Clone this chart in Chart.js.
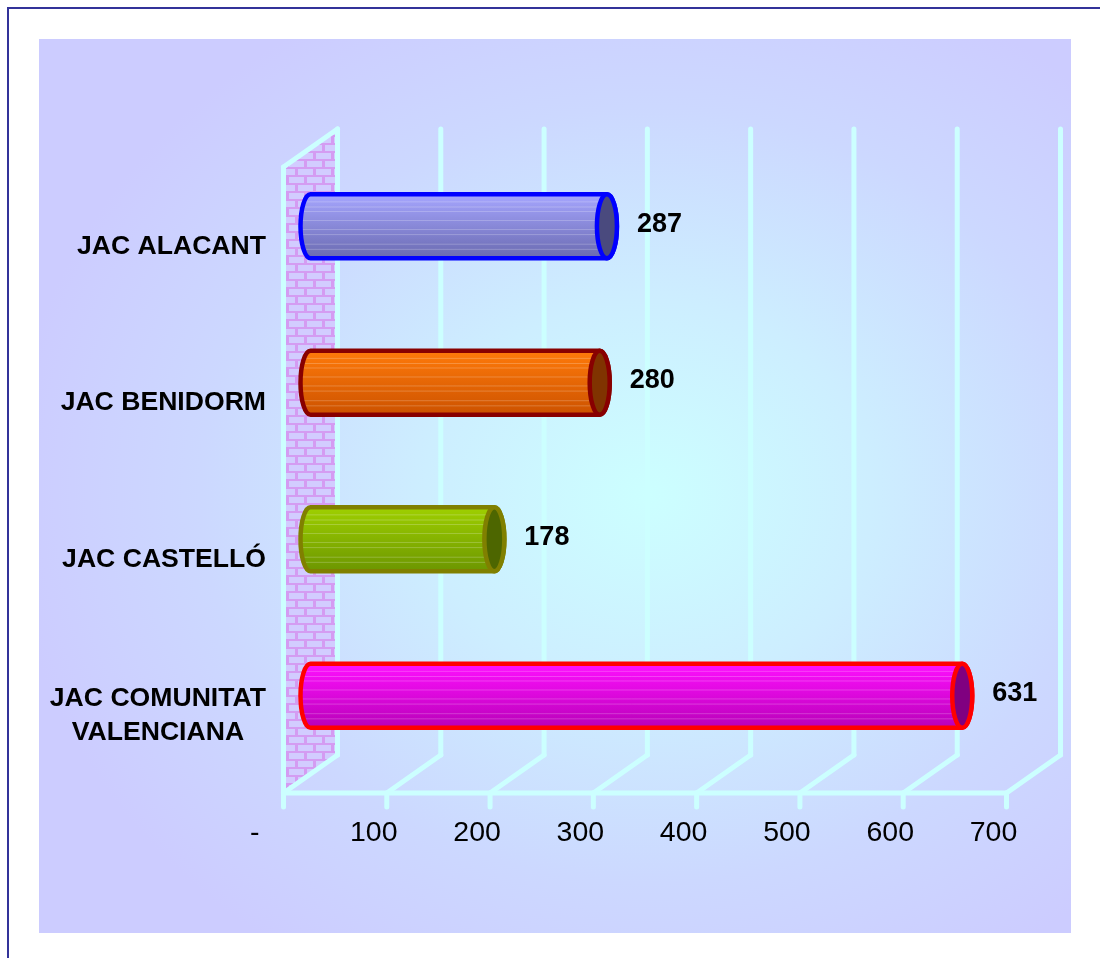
<!DOCTYPE html>
<html>
<head>
<meta charset="utf-8">
<script src="https://cdn.jsdelivr.net/npm/chart.js@4.4.0/dist/chart.umd.min.js"></script>
<style>
body { margin: 0; background: #fff; }
#frame { position: absolute; left: 7px; top: 7px; width: 1200px; height: 1100px;
  border-left: 2px solid #333399; border-top: 2px solid #333399; }
#panel { position: absolute; left: 39px; top: 39px; width: 1032px; height: 894px;
  background: radial-gradient(ellipse 62% 62% at 59% 51%, #ccffff 0%, #cdeeff 35%, #ccd8ff 70%, #ccccff 100%); }
#wrap { position: absolute; left: 0; top: 0; width: 1100px; height: 958px; }
</style>
</head>
<body>
<div id="frame"></div>
<div id="panel"></div>
<div id="wrap"><canvas id="myChart" width="1100" height="958"></canvas></div>
<script>
const categories = [["JAC ALACANT"], ["JAC BENIDORM"], ["JAC CASTELLÓ"], ["JAC COMUNITAT", "VALENCIANA"]];
const values = [287, 280, 178, 631];
const tickLabels = ["-    ", "100", "200", "300", "400", "500", "600", "700"];

const topColors = ["#a6a6ff", "#ff7a0a", "#9fd000", "#ff10ff"];
const bottomColors = ["#6a6ab0", "#cc5200", "#6c9600", "#b800b8"];
const borderColors = ["#0000ff", "#880000", "#808000", "#ff0000"];
const endColors = ["#4a4a7e", "#803300", "#4d6600", "#800080"];

const FONT = "'Liberation Sans', Arial, sans-serif";
const DX = 27, DY = 19;   // offset from the middle plane to the front/back plane
const GRID = "#ccffff";

function brickPattern(ctx) {
    const c = document.createElement("canvas");
    c.width = 18; c.height = 16;
    const g = c.getContext("2d");
    g.fillStyle = "#d49cf2";
    g.fillRect(0, 0, 18, 16);
    g.fillStyle = "#d2ccff";
    g.fillRect(1, 1, 15, 6);
    g.fillRect(10, 9, 15, 6);
    g.fillRect(-8, 9, 15, 6);
    return ctx.createPattern(c, "repeat");
}

function line(ctx, x1, y1, x2, y2) {
    ctx.beginPath();
    ctx.moveTo(x1, y1);
    ctx.lineTo(x2, y2);
    ctx.stroke();
}

const wallPlugin = {
    id: "wall",
    beforeDatasetsDraw(chart) {
        const ctx = chart.ctx, xs = chart.scales.x, a = chart.chartArea;
        const backTop = a.top - DY, backFloor = a.bottom - DY;
        const frontTop = backTop + 2 * DY, frontFloor = a.bottom + DY;
        const m0 = xs.getPixelForValue(xs.min), mEnd = xs.getPixelForValue(xs.max);
        ctx.save();
        ctx.fillStyle = brickPattern(ctx);
        ctx.beginPath();
        ctx.moveTo(m0 - DX, frontTop);
        ctx.lineTo(m0 + DX, backTop);
        ctx.lineTo(m0 + DX, backFloor);
        ctx.lineTo(m0 - DX, frontFloor);
        ctx.closePath();
        ctx.fill();

        ctx.strokeStyle = GRID;
        ctx.lineWidth = 5;
        ctx.lineCap = "round";
        ctx.lineJoin = "round";
        xs.ticks.forEach(t => {
            const m = xs.getPixelForValue(t.value);
            line(ctx, m + DX, backTop, m + DX, backFloor);
            line(ctx, m - DX, frontFloor, m + DX, backFloor);
            line(ctx, m - DX, frontFloor, m - DX, frontFloor + 14);
        });
        line(ctx, m0 - DX, frontFloor, mEnd - DX, frontFloor);
        line(ctx, m0 - DX, frontTop, m0 - DX, frontFloor);
        line(ctx, m0 - DX, frontTop, m0 + DX, backTop);
        ctx.restore();
    }
};

const stripes = [0.12, 0.2, 0.27, 0.41, 0.55, 0.63, 0.78, 0.86];

function bodyPath(ctx, p, rx, r) {
    ctx.beginPath();
    ctx.moveTo(p.base, p.y - r);
    ctx.lineTo(p.x, p.y - r);
    ctx.ellipse(p.x, p.y, rx, r, 0, -Math.PI / 2, Math.PI / 2);
    ctx.lineTo(p.base, p.y + r);
    ctx.ellipse(p.base, p.y, rx, r, 0, Math.PI / 2, Math.PI * 1.5);
    ctx.closePath();
}

const cylinderPlugin = {
    id: "cylinders",
    afterDatasetsDraw(chart) {
        const ctx = chart.ctx;
        const meta = chart.getDatasetMeta(0);
        meta.data.forEach((el, i) => {
            const p = el.getProps(["x", "y", "base", "height"], true);
            const r = p.height / 2, rx = 10;
            const t = p.y - r, b = p.y + r;
            ctx.save();
            const grad = ctx.createLinearGradient(0, t, 0, b);
            grad.addColorStop(0, topColors[i]);
            grad.addColorStop(1, bottomColors[i]);
            bodyPath(ctx, p, rx, r);
            ctx.fillStyle = grad;
            ctx.fill();

            ctx.save();
            bodyPath(ctx, p, rx, r);
            ctx.clip();
            ctx.strokeStyle = "rgba(255,255,255,0.22)";
            ctx.lineWidth = 1;
            stripes.forEach(f => line(ctx, p.base - rx, t + f * p.height, p.x, t + f * p.height));
            ctx.restore();

            bodyPath(ctx, p, rx, r);
            ctx.strokeStyle = borderColors[i];
            ctx.lineWidth = 4.5;
            ctx.lineJoin = "round";
            ctx.stroke();

            ctx.beginPath();
            ctx.ellipse(p.x, p.y, rx, r, 0, 0, Math.PI * 2);
            ctx.fillStyle = endColors[i];
            ctx.fill();
            ctx.stroke();

            ctx.fillStyle = "#000";
            ctx.font = "bold 27px " + FONT;
            ctx.textAlign = "left";
            ctx.textBaseline = "middle";
            ctx.fillText(String(values[i]), p.x + 30, p.y - 2);
            ctx.restore();
        });
    }
};

const categoryLabels = {
    id: "categoryLabels",
    afterDraw(chart) {
        const ctx = chart.ctx, ys = chart.scales.y;
        ctx.save();
        ctx.fillStyle = "#000";
        ctx.font = "bold 26.6px " + FONT;
        ctx.textAlign = "center";
        ctx.textBaseline = "middle";
        categories.forEach((lines, i) => {
            const yc = ys.getPixelForValue(i) + 20;
            const w = Math.max(...lines.map(s => ctx.measureText(s).width));
            const cx = 266 - w / 2;
            lines.forEach((s, k) => {
                ctx.fillText(s, cx, yc + (k - (lines.length - 1) / 2) * 34);
            });
        });
        ctx.restore();
    }
};

new Chart("myChart", {
    type: "bar",
    data: {
        labels: categories.map(c => c.join(" ")),
        datasets: [{
            data: values,
            backgroundColor: "rgba(0,0,0,0)",
            borderWidth: 0,
            barPercentage: 0.41,
            categoryPercentage: 1
        }]
    },
    plugins: [wallPlugin, cylinderPlugin, categoryLabels],
    options: {
        indexAxis: "y",
        responsive: false,
        animation: false,
        layout: { padding: { top: 148, right: 66.5, left: 0, bottom: 0 } },
        plugins: { legend: { display: false }, tooltip: { enabled: false } },
        scales: {
            x: {
                min: 0,
                max: 700,
                grid: { display: false, drawTicks: false },
                border: { display: false },
                ticks: {
                    stepSize: 100,
                    padding: 42,
                    labelOffset: -40,
                    color: "#000",
                    font: { family: FONT, size: 28.5 },
                    callback: (v, i) => tickLabels[i]
                },
                afterFit: s => { s.height = 184; }
            },
            y: {
                grid: { display: false, drawTicks: false },
                border: { display: false },
                ticks: { display: false },
                afterFit: s => { s.width = 310.5; }
            }
        }
    }
});
</script>
</body>
</html>
